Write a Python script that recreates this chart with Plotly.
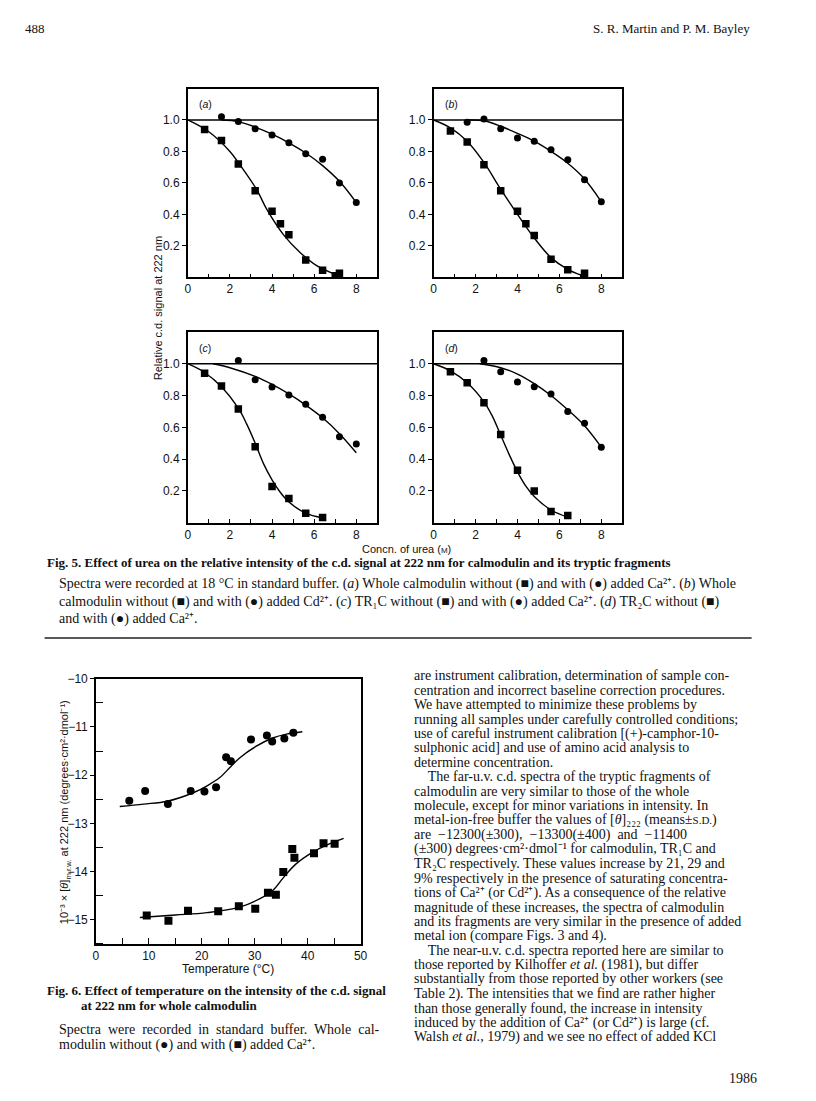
import plotly.graph_objects as go

# ---------------- Fig. 5 data (urea, M vs relative c.d. signal) ----------------
a_sq_x = [0.8, 1.6, 2.4, 3.2, 4.0, 4.4, 4.8, 5.6, 6.4, 7.0, 7.2]
a_sq_y = [0.94, 0.87, 0.72, 0.55, 0.42, 0.34, 0.27, 0.11, 0.045, 0.01, 0.025]
a_ci_x = [1.6, 2.4, 3.2, 4.0, 4.8, 5.6, 6.4, 7.2, 8.0]
a_ci_y = [1.02, 0.99, 0.945, 0.905, 0.855, 0.785, 0.75, 0.60, 0.475]
a_fsq_x = [0, 1.0, 2.0, 2.45, 3.26, 3.76, 4.55, 5.33, 6.12, 7.06]
a_fsq_y = [1.0, 0.925, 0.80, 0.72, 0.56, 0.43, 0.27, 0.158, 0.074, 0.015]
a_fci_x = [1.6, 2.4, 3.2, 4.0, 4.8, 5.6, 6.4, 7.2, 8.0]
a_fci_y = [1.0, 0.99, 0.955, 0.91, 0.855, 0.79, 0.71, 0.61, 0.475]

b_sq_x = [0.8, 1.6, 2.4, 3.2, 4.0, 4.4, 4.8, 5.6, 6.4, 7.2]
b_sq_y = [0.93, 0.86, 0.716, 0.55, 0.42, 0.34, 0.265, 0.114, 0.048, 0.025]
b_ci_x = [1.6, 2.4, 3.2, 4.0, 4.8, 5.6, 6.4, 7.2, 8.0]
b_ci_y = [0.985, 1.006, 0.945, 0.886, 0.865, 0.81, 0.747, 0.62, 0.48]
b_fsq_x = [0, 0.8, 1.6, 2.4, 3.2, 4.0, 4.8, 5.6, 6.4, 7.0]
b_fsq_y = [1.0, 0.95, 0.865, 0.73, 0.56, 0.40, 0.25, 0.125, 0.05, 0.015]
b_fci_x = [1.6, 2.4, 3.2, 4.0, 4.8, 5.6, 6.4, 7.2, 8.0]
b_fci_y = [1.0, 0.995, 0.96, 0.915, 0.865, 0.80, 0.725, 0.625, 0.48]

c_sq_x = [0.8, 1.6, 2.4, 3.2, 4.0, 4.8, 5.6, 6.4]
c_sq_y = [0.94, 0.86, 0.716, 0.478, 0.227, 0.152, 0.059, 0.032]
c_ci_x = [2.4, 3.2, 4.0, 4.8, 5.6, 6.4, 7.2, 8.0]
c_ci_y = [1.02, 0.90, 0.853, 0.804, 0.745, 0.663, 0.541, 0.495]
c_fsq_x = [0, 0.8, 1.6, 2.4, 2.8, 3.2, 3.6, 4.0, 4.4, 4.8, 5.6, 6.4]
c_fsq_y = [1.0, 0.945, 0.855, 0.72, 0.62, 0.50, 0.37, 0.27, 0.19, 0.13, 0.06, 0.03]
c_fci_x = [1.2, 2.0, 3.2, 4.0, 4.8, 5.6, 6.4, 7.2, 8.0]
c_fci_y = [1.0, 0.975, 0.92, 0.87, 0.81, 0.74, 0.66, 0.56, 0.44]

d_sq_x = [0.8, 1.6, 2.4, 3.2, 4.0, 4.8, 5.6, 6.4]
d_sq_y = [0.95, 0.88, 0.755, 0.555, 0.33, 0.20, 0.07, 0.045]
d_ci_x = [2.4, 3.2, 4.0, 4.8, 5.6, 6.4, 7.2, 8.0]
d_ci_y = [1.02, 0.95, 0.885, 0.855, 0.81, 0.70, 0.625, 0.475]
d_fsq_x = [0, 0.8, 1.6, 2.4, 2.8, 3.2, 3.6, 4.0, 4.4, 4.8, 5.6, 6.4]
d_fsq_y = [1.0, 0.955, 0.88, 0.76, 0.67, 0.55, 0.43, 0.32, 0.23, 0.165, 0.08, 0.035]
d_fci_x = [2.2, 3.2, 4.0, 4.8, 5.6, 6.4, 7.2, 8.0]
d_fci_y = [1.0, 0.975, 0.935, 0.875, 0.80, 0.71, 0.61, 0.475]

panel_labels = ["a", "b", "c", "d"]
urea_tickvals = [0, 1, 2, 3, 4, 5, 6, 7, 8, 9]
urea_ticktext = ["0", "", "2", "", "4", "", "6", "", "8", ""]
rel_tickvals = [0.2, 0.4, 0.6, 0.8, 1.0]
rel_ticktext = ["0.2", "0.4", "0.6", "0.8", "1.0"]

# ---------------- Fig. 6 data (temperature vs ellipticity) ----------------
t_ci_x = [6.3, 9.3, 13.6, 17.9, 20.5, 22.7, 24.6, 25.5, 29.3, 32.3, 33.3, 35.6, 37.3]
t_ci_y = [-12.53, -12.33, -12.6, -12.33, -12.34, -12.25, -11.63, -11.71, -11.26, -11.18, -11.30, -11.24, -11.12]
t_sq_x = [9.6, 13.7, 17.4, 23.1, 27.0, 30.1, 32.5, 34.0, 35.4, 37.1, 37.5, 41.2, 43.0, 45.1]
t_sq_y = [-14.91, -15.02, -14.81, -14.82, -14.72, -14.77, -14.44, -14.48, -14.01, -13.53, -13.71, -13.62, -13.41, -13.42]
t_fci_x = [4.5, 9.0, 13.5, 18.5, 21.0, 23.4, 25.5, 27.2, 30.3, 33.4, 36.0, 39.0]
t_fci_y = [-12.65, -12.6, -12.54, -12.36, -12.22, -12.05, -11.82, -11.64, -11.40, -11.23, -11.15, -11.10]
t_fsq_x = [8.3, 15.0, 21.0, 27.0, 31.0, 33.5, 35.3, 37.7, 40.9, 44.0, 46.8]
t_fsq_y = [-14.95, -14.9, -14.85, -14.74, -14.56, -14.38, -14.14, -13.85, -13.6, -13.43, -13.31]
temp_tickvals = [0, 5, 10, 15, 20, 25, 30, 35, 40, 45, 50]
temp_ticktext = ["0", "", "10", "", "20", "", "30", "", "40", "", "50"]
theta_tickvals = [-15, -14, -13, -12, -11, -10]
theta_ticktext = ["\u221215", "\u221214", "\u221213", "\u221212", "\u221211", "\u221210"]
theta_minor = [-15.5, -14.5, -13.5, -12.5, -11.5, -10.5]

# ---------------- text ----------------
right_col = [
    "are instrument calibration, determination of sample con-",
    "centration and incorrect baseline correction procedures.",
    "We have attempted to minimize these problems by",
    "running all samples under carefully controlled conditions;",
    "use of careful instrument calibration [(+)-camphor-10-",
    "sulphonic acid] and use of amino acid analysis to",
    "determine concentration.",
    "    The far-u.v. c.d. spectra of the tryptic fragments of",
    "calmodulin are very similar to those of the whole",
    "molecule, except for minor variations in intensity. In",
    "metal-ion-free buffer the values of [<i>\u03b8</i>]\u2082\u2082\u2082 (means\u00b1<span style='font-size:11px'>S.D.</span>)",
    "are  \u221212300(\u00b1300),  \u221213300(\u00b1400)  and  \u221211400",
    "(\u00b1300) degrees\u00b7cm\u00b2\u00b7dmol\u207b\u00b9 for calmodulin, TR\u2081C and",
    "TR\u2082C respectively. These values increase by 21, 29 and",
    "9% respectively in the presence of saturating concentra-",
    "tions of Ca\u00b2\u207a (or Cd\u00b2\u207a). As a consequence of the relative",
    "magnitude of these increases, the spectra of calmodulin",
    "and its fragments are very similar in the presence of added",
    "metal ion (compare Figs. 3 and 4).",
    "    The near-u.v. c.d. spectra reported here are similar to",
    "those reported by Kilhoffer <i>et al.</i> (1981), but differ",
    "substantially from those reported by other workers (see",
    "Table 2). The intensities that we find are rather higher",
    "than those generally found, the increase in intensity",
    "induced by the addition of Ca\u00b2\u207a (or Cd\u00b2\u207a) is large (cf.",
    "Walsh <i>et al.</i>, 1979) and we see no effect of added KCl",
]
fig5_title = "<b>Fig. 5. Effect of urea on the relative intensity of the c.d. signal at 222 nm for calmodulin and its tryptic fragments</b>"
fig5_caption = [
    "Spectra were recorded at 18 \u00b0C in standard buffer. (<i>a</i>) Whole calmodulin without (\u25a0) and with (\u25cf) added Ca\u00b2\u207a. (<i>b</i>) Whole",
    "calmodulin without (\u25a0) and with (\u25cf) added Cd\u00b2\u207a. (<i>c</i>) TR\u2081C without (\u25a0) and with (\u25cf) added Ca\u00b2\u207a. (<i>d</i>) TR\u2082C without (\u25a0)",
    "and with (\u25cf) added Ca\u00b2\u207a.",
]
fig6_title = ["<b>Fig. 6. Effect of temperature on the intensity of the c.d. signal</b>",
              "<b>at 222 nm for whole calmodulin</b>"]
fig6_caption = ["Spectra  were  recorded  in  standard  buffer.  Whole  cal-",
                "modulin without (\u25cf) and with (\u25a0) added Ca\u00b2\u207a."]

# page is drawn inside an 8px browser body margin
OFF = 8
W, H = 800, 1085


def px(x):
    return (x - OFF) / W


def py(y):
    return 1 - (y - OFF) / H


fig = go.Figure()

panels = [
    (a_sq_x, a_sq_y, a_ci_x, a_ci_y, a_fsq_x, a_fsq_y, a_fci_x, a_fci_y),
    (b_sq_x, b_sq_y, b_ci_x, b_ci_y, b_fsq_x, b_fsq_y, b_fci_x, b_fci_y),
    (c_sq_x, c_sq_y, c_ci_x, c_ci_y, c_fsq_x, c_fsq_y, c_fci_x, c_fci_y),
    (d_sq_x, d_sq_y, d_ci_x, d_ci_y, d_fsq_x, d_fsq_y, d_fci_x, d_fci_y),
]
boxes = [(187, 379, 82, 272), (436, 627, 82, 272), (187, 379, 327, 519), (436, 627, 327, 519)]

line_style = dict(color="black", width=1.4, shape="spline", smoothing=1.0)
sans = "Liberation Sans, Arial"
serif = "Liberation Serif, Times New Roman"
tickfont = dict(family=sans, size=12, color="#111")

layout = dict(width=W, height=H, margin=dict(l=0, r=0, t=0, b=0),
              paper_bgcolor="white", plot_bgcolor="white", showlegend=False)
annotations = []
shapes = []

for i, (p, box) in enumerate(zip(panels, boxes)):
    n = "" if i == 0 else str(i + 1)
    xa, ya = "x" + n, "y" + n
    sqx, sqy, cix, ciy, fsx, fsy, fcx, fcy = p
    fig.add_trace(go.Scatter(x=fsx, y=fsy, mode="lines", line=line_style, xaxis=xa, yaxis=ya, hoverinfo="skip"))
    fig.add_trace(go.Scatter(x=fcx, y=fcy, mode="lines", line=line_style, xaxis=xa, yaxis=ya, hoverinfo="skip"))
    fig.add_trace(go.Scatter(x=sqx, y=sqy, mode="markers", marker=dict(symbol="square", size=7.5, color="black"),
                             xaxis=xa, yaxis=ya))
    fig.add_trace(go.Scatter(x=cix, y=ciy, mode="markers", marker=dict(symbol="circle", size=7, color="black"),
                             xaxis=xa, yaxis=ya))
    x0, x1, y0, y1 = box
    layout["xaxis" + n] = dict(domain=[px(x0), px(x1)], anchor=ya, range=[0, 9],
                               tickmode="array", tickvals=urea_tickvals, ticktext=urea_ticktext,
                               ticks="inside", ticklen=4, tickwidth=1.3, tickcolor="black",
                               showline=True, mirror=True, linecolor="black", linewidth=1.5,
                               showgrid=False, zeroline=False, tickfont=tickfont, fixedrange=True)
    layout["yaxis" + n] = dict(domain=[py(y1), py(y0)], anchor=xa, range=[0, 1.2],
                               tickmode="array", tickvals=rel_tickvals, ticktext=rel_ticktext,
                               ticks="outside", ticklen=4, tickwidth=1.3, tickcolor="black",
                               showline=True, mirror=True, linecolor="black", linewidth=1.5,
                               showgrid=False, zeroline=False, tickfont=tickfont, fixedrange=True)
    shapes.append(dict(type="line", xref=xa, yref=ya, x0=0, x1=9, y0=1.0, y1=1.0,
                       line=dict(color="black", width=1.5)))
    annotations.append(dict(xref=xa, yref=ya, x=0.45, y=1.1, text="(<i>" + panel_labels[i] + "</i>)",
                            showarrow=False, xanchor="left", yanchor="middle",
                            font=dict(family=sans, size=10.5, color="#111")))

# Fig 6
fig.add_trace(go.Scatter(x=t_fci_x, y=t_fci_y, mode="lines", line=line_style, xaxis="x5", yaxis="y5", hoverinfo="skip"))
fig.add_trace(go.Scatter(x=t_fsq_x, y=t_fsq_y, mode="lines", line=line_style, xaxis="x5", yaxis="y5", hoverinfo="skip"))
fig.add_trace(go.Scatter(x=t_ci_x, y=t_ci_y, mode="markers", marker=dict(symbol="circle", size=8, color="black"),
                         xaxis="x5", yaxis="y5"))
fig.add_trace(go.Scatter(x=t_sq_x, y=t_sq_y, mode="markers", marker=dict(symbol="square", size=8, color="black"),
                         xaxis="x5", yaxis="y5"))
layout["xaxis5"] = dict(domain=[px(94), px(362)], anchor="y5", range=[0, 50],
                        tickmode="array", tickvals=temp_tickvals, ticktext=temp_ticktext,
                        ticks="inside", ticklen=6, tickwidth=1.3, tickcolor="black",
                        showline=True, mirror=True, linecolor="black", linewidth=1.5,
                        showgrid=False, zeroline=False, tickfont=tickfont, fixedrange=True)
layout["yaxis5"] = dict(domain=[py(943), py(676)], anchor="x5", range=[-15.5, -10],
                        tickmode="array", tickvals=theta_tickvals, ticktext=theta_ticktext,
                        ticks="outside", ticklen=4, tickwidth=1.3, tickcolor="black",
                        minor=dict(tickvals=theta_minor, ticks="inside", ticklen=7, tickwidth=1.3,
                                   tickcolor="black", showgrid=False),
                        showline=True, mirror=True, linecolor="black", linewidth=1.5,
                        showgrid=False, zeroline=False, tickfont=tickfont, fixedrange=True)


def ann(x, y, text, size=12, family=serif, xanchor="left", angle=0, color="#111"):
    annotations.append(dict(xref="paper", yref="paper", x=px(x), y=py(y), text=text, showarrow=False,
                            xanchor=xanchor, yanchor="middle", textangle=angle,
                            font=dict(family=family, size=size, color=color)))


# header
ann(20, 22, "488", size=13)
ann(758, 22, "S. R. Martin and P. M. Bayley", size=13, xanchor="right")

# fig 5 axis titles
ann(157, 303, "Relative c.d. signal at 222 nm", size=11, family=sans, xanchor="center", angle=-90)
ann(408, 545, "Concn. of urea (<span style='font-size:8px'>M</span>)", size=11, family=sans, xanchor="center")

# fig 5 caption
ann(42, 559, fig5_title, size=13)
for k, line in enumerate(fig5_caption):
    ann(55, 581 + 17.5 * k, line, size=14)
shapes.append(dict(type="line", xref="paper", yref="paper", x0=px(42), x1=px(758), y0=py(635), y1=py(635),
                   line=dict(color="#222", width=1.5)))

# fig 6 axis titles
ann(63, 810, "10\u207b\u00b3 \u00d7 [<i>\u03b8</i>]<sub>m.r.w.</sub> at 222 nm (degrees\u00b7cm\u00b2\u00b7dmol\u207b\u00b9)",
    size=11, family=sans, xanchor="center", angle=-90)
ann(228, 968, "Temperature (\u00b0C)", size=12, family=sans, xanchor="center")

# fig 6 caption
ann(42, 990, fig6_title[0], size=13)
ann(77, 1005, fig6_title[1], size=13)
ann(55, 1029, fig6_caption[0], size=14)
ann(55, 1045, fig6_caption[1], size=14)

# right column
for k, line in enumerate(right_col):
    ann(414, 673 + 14.55 * k, line, size=14)
ann(765, 1078, "1986", size=14, xanchor="right")

layout["annotations"] = annotations
layout["shapes"] = shapes
fig.update_layout(**layout)
fig.write_html("out.html")
